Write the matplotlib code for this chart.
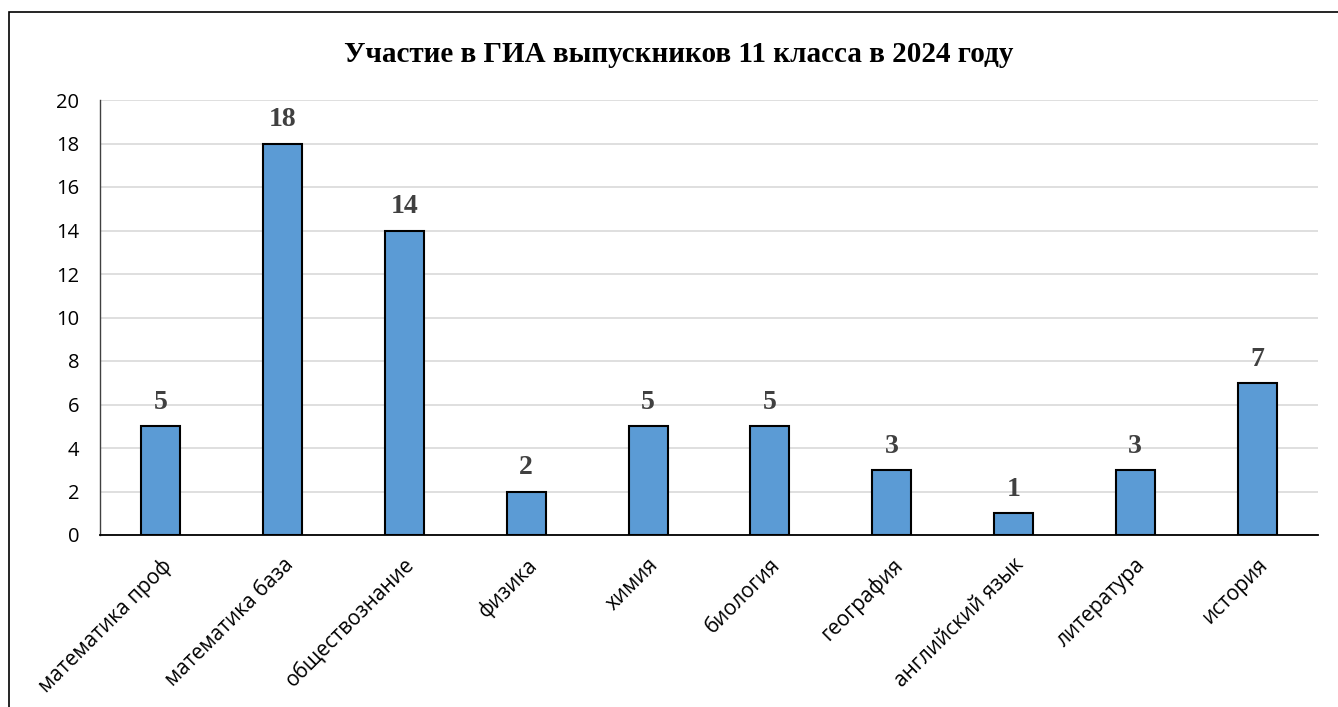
import matplotlib
matplotlib.use("Agg")
import matplotlib.pyplot as plt
from matplotlib.patches import Rectangle

categories = ["математика проф", "математика база", "обществознание", "физика", "химия",
              "биология", "география", "английский язык", "литература", "история"]
values = [5, 18, 14, 2, 5, 5, 3, 1, 3, 7]
yticks = [0, 2, 4, 6, 8, 10, 12, 14, 16, 18, 20]
title = "Участие в ГИА выпускников 11 класса в 2024 году"

W, H = 1338, 707
fig = plt.figure(figsize=(W / 100, H / 100), dpi=100)
fig.patch.set_facecolor("white")

# outer border
fig.add_artist(Rectangle((9 / W, -0.05), (W - 9 + 20) / W, 1 - 12 / H + 0.05,
                         transform=fig.transFigure, fill=False, edgecolor="black", lw=1.2))

left, right, top, bottom = 100, 1318, 100, 535
ax = fig.add_axes([left / W, 1 - bottom / H, (right - left) / W, (bottom - top) / H])

x = range(len(categories))
ax.bar(x, values, width=0.32, color="#5B9BD5", edgecolor="black", linewidth=1.5, zorder=3)
ax.set_xlim(-0.5, len(categories) - 0.5)
ax.set_ylim(0, 20)
ax.set_yticks(yticks)
ax.set_yticklabels([str(t) for t in yticks], fontfamily="Open Sans", fontsize=14.5)
ax.yaxis.grid(True, color="#D9D9D9", linewidth=1.2, zorder=0)
ax.set_axisbelow(True)
ax.tick_params(axis="y", length=0, pad=15)
ax.tick_params(axis="x", length=0, pad=14)
ax.set_xticks(list(x))
ax.set_xticklabels(categories, rotation=45, ha="right", va="top", rotation_mode="anchor",
                   fontfamily="Open Sans", fontsize=15)
for s in ["top", "right"]:
    ax.spines[s].set_visible(False)
ax.spines["left"].set_color("#404040")
ax.spines["left"].set_linewidth(1.0)
ax.spines["bottom"].set_color("black")
ax.spines["bottom"].set_linewidth(1.3)

for xi, v in zip(x, values):
    ax.annotate(str(v), (xi, v), xytext=(0, 8), textcoords="offset points",
                ha="center", va="bottom", fontfamily="Liberation Serif", fontweight="bold",
                fontsize=20, color="#404040")

fig.text(0.5 * (340 + 1017) / W, 1 - 54 / H, title, ha="center", va="center",
         fontfamily="Liberation Serif", fontweight="bold", fontsize=21)

fig.savefig("out.png", dpi=100)
